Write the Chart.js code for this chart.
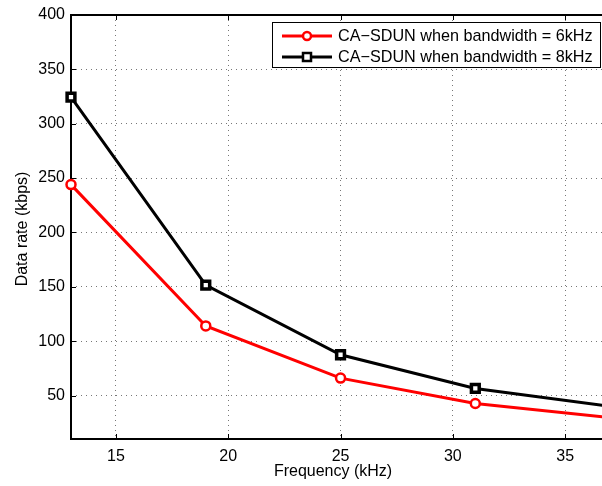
<!DOCTYPE html>
<html><head><meta charset="utf-8">
<script src="https://cdn.jsdelivr.net/npm/chart.js@4/dist/chart.umd.min.js"></script>
<style>html,body{margin:0;padding:0;overflow:hidden;background:#fff}</style>
</head><body><canvas id="c" width="602" height="486"></canvas>
<script>
const frequencies = [13, 19, 25, 31, 37];
const rate6k = [244, 114, 66, 42.7, 29.7];
const rate8k = [324.5, 151.5, 87.5, 56.5, 40];
const xTicks = [15, 20, 25, 30, 35];
const yTicks = [50, 100, 150, 200, 250, 300, 350, 400];
const seriesNames = ['CA\u2212SDUN when bandwidth = 6kHz', 'CA\u2212SDUN when bandwidth = 8kHz'];
const xTitle = 'Frequency (kHz)';
const yTitle = 'Data rate (kbps)';
const FONT = 'Liberation Sans, Arial, Helvetica, sans-serif';

const framePlugin = {
  id: 'frame',
  beforeDatasetsDraw(chart) {
    const {ctx, chartArea: a, scales: {x, y}} = chart;
    ctx.save();
    ctx.strokeStyle = '#000';
    ctx.lineWidth = 1;
    ctx.beginPath();
    xTicks.forEach(v => { const px = Math.round(x.getPixelForValue(v)) + 0.5;
      ctx.moveTo(px, a.bottom); ctx.lineTo(px, a.bottom - 5);
      ctx.moveTo(px, a.top); ctx.lineTo(px, a.top + 5); });
    yTicks.forEach(v => { const py = Math.round(y.getPixelForValue(v)) + 0.5;
      ctx.moveTo(a.left, py); ctx.lineTo(a.left + 5, py); });
    ctx.stroke();
    ctx.lineWidth = 2;
    ctx.beginPath();
    ctx.moveTo(a.right + 2, a.top); ctx.lineTo(a.left, a.top); ctx.lineTo(a.left, a.bottom); ctx.lineTo(a.right + 2, a.bottom);
    ctx.stroke();
    ctx.restore();
  },
  afterDatasetsDraw(chart) {
    const {ctx} = chart;
    ctx.save();
    // legend
    const lx = 272, ly = 22, lw = 329, lh = 46;
    ctx.fillStyle = '#fff';
    ctx.fillRect(lx, ly, lw, lh);
    ctx.strokeStyle = '#000';
    ctx.lineWidth = 1;
    ctx.strokeRect(lx + 0.5, ly + 0.5, lw - 1, lh - 1);
    ctx.font = '16.2px ' + FONT;
    ctx.textBaseline = 'middle';
    chart.data.datasets.forEach((ds, i) => {
      const yy = ly + 14 + i * 21;
      ctx.strokeStyle = ds.borderColor;
      ctx.lineWidth = 3;
      ctx.beginPath(); ctx.moveTo(282, yy); ctx.lineTo(332, yy); ctx.stroke();
      ctx.fillStyle = '#fff';
      ctx.lineWidth = 2.5;
      ctx.beginPath();
      if (ds.pointStyle === 'circle') ctx.arc(307, yy, 4, 0, Math.PI * 2);
      else ctx.rect(303, yy - 4, 8, 8);
      ctx.fill(); ctx.stroke();
      ctx.fillStyle = '#000';
      ctx.fillText(seriesNames[i], 338, yy + 1);
    });
    // axis titles
    ctx.fillStyle = '#000';
    ctx.textAlign = 'center';
    ctx.font = '16px ' + FONT;
    ctx.fillText(xTitle, 333, 472);
    ctx.translate(23, 229);
    ctx.rotate(-Math.PI / 2);
    ctx.fillText(yTitle, 0, 0);
    ctx.restore();
  }
};

new Chart(document.getElementById('c'), {
  type: 'line',
  data: {
    datasets: [
      { data: frequencies.map((f, i) => ({x: f, y: rate6k[i]})), borderColor: '#ff0000', borderWidth: 3, clip: false,
        pointStyle: 'circle', pointRadius: 4.5, pointBorderWidth: 2.5, pointBackgroundColor: '#fff', pointBorderColor: '#ff0000', tension: 0 },
      { data: frequencies.map((f, i) => ({x: f, y: rate8k[i]})), borderColor: '#000000', borderWidth: 3, clip: false,
        pointStyle: 'rect', pointRadius: 5.5, pointBorderWidth: 3.5, pointBackgroundColor: '#fff', pointBorderColor: '#000', tension: 0 }
    ]
  },
  options: {
    responsive: false, animation: false,
    layout: { autoPadding: false, padding: { top: 15, right: 0, left: 0, bottom: 0 } },
    plugins: { legend: { display: false }, tooltip: { enabled: false } },
    scales: {
      x: {
        type: 'linear', min: 13, max: 36.64,
        afterBuildTicks: s => { s.ticks = xTicks.map(v => ({value: v})); },
        afterFit: s => { s.height = 47; s.paddingRight = 0; s.paddingLeft = 0; },
        grid: { color: '#777', drawTicks: false, lineWidth: 1 },
        border: { display: false, dash: [1, 4] },
        ticks: { color: '#000', font: { family: FONT, size: 16 }, padding: 8, maxRotation: 0 }
      },
      y: {
        type: 'linear', min: 10, max: 400,
        afterBuildTicks: s => { s.ticks = yTicks.map(v => ({value: v})); },
        afterFit: s => { s.width = 71; s.paddingTop = 0; s.paddingBottom = 0; },
        grid: { color: '#777', drawTicks: false, lineWidth: 1 },
        border: { display: false, dash: [1, 4] },
        ticks: { color: '#000', font: { family: FONT, size: 16 }, padding: 6 }
      }
    }
  },
  plugins: [framePlugin]
});
</script></body></html>
